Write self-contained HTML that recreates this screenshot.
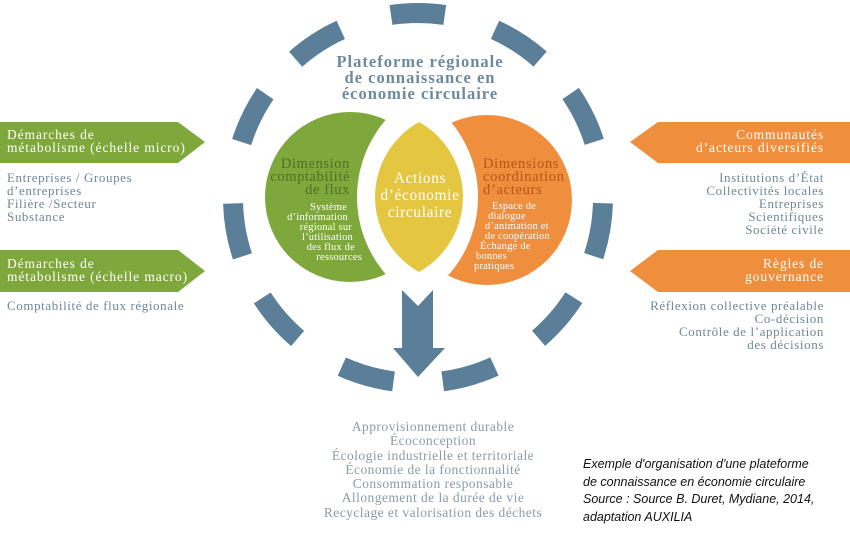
<!DOCTYPE html>
<html><head><meta charset="utf-8"><style>
html,body{margin:0;padding:0;background:#fff;width:850px;height:533px;overflow:hidden}
svg{display:block}
.s{font-family:"Liberation Serif","DejaVu Serif",serif}
</style></head><body>
<svg width="850" height="533" viewBox="0 0 850 533" xmlns="http://www.w3.org/2000/svg">
<defs>
<mask id="mo"><rect width="850" height="533" fill="#fff"/><circle cx="360" cy="197" r="118" fill="#000"/></mask>
<clipPath id="ly"><circle cx="461" cy="197" r="86"/></clipPath>
</defs>
<g fill="none" stroke="#5b7f98" stroke-width="20" stroke-dasharray="54 2000">
<circle cx="418" cy="198" r="185" transform="rotate(-98.4 418 198)"/>
<circle cx="418" cy="198" r="185" transform="rotate(-65.4 418 198)"/>
<circle cx="418" cy="198" r="185" transform="rotate(-34.4 418 198)"/>
<circle cx="418" cy="198" r="185" transform="rotate(1.6 418 198)"/>
<circle cx="418" cy="198" r="185" transform="rotate(32.6 418 198)"/>
<circle cx="418" cy="198" r="185" transform="rotate(65.6 418 198)"/>
<circle cx="418" cy="198" r="185" transform="rotate(-131.4 418 198)"/>
<circle cx="418" cy="198" r="185" transform="rotate(-162.4 418 198)"/>
<circle cx="418" cy="198" r="185" transform="rotate(161.6 418 198)"/>
<circle cx="418" cy="198" r="185" transform="rotate(130.6 418 198)"/>
<circle cx="418" cy="198" r="185" transform="rotate(97.6 418 198)"/>
</g>
<circle cx="350" cy="197" r="85" fill="#7ea83b"/>
<circle cx="475" cy="197" r="118" fill="#fff"/>
<circle cx="487" cy="200" r="85" fill="#ef8e3c" mask="url(#mo)"/>
<circle cx="377" cy="197" r="86" fill="#e4c640" clip-path="url(#ly)"/>
<polygon points="402,290 418,306 433,290 433,348 445,348 418,377 393,348 402,348" fill="#5b7f98"/>
<g class="s" font-weight="bold" font-size="16.5" letter-spacing="1" fill="#6d899b" text-anchor="middle">
<text x="420" y="67">Plateforme régionale</text>
<text x="420" y="83">de connaissance en</text>
<text x="420" y="99">économie circulaire</text>
</g>
<g class="s" font-size="14.5" letter-spacing="0.6" fill="#4f7024" text-anchor="end">
<text x="350" y="168">Dimension</text><text x="350" y="181">comptabilité</text><text x="350" y="194">de flux</text>
</g>
<g class="s" font-size="10.5" letter-spacing="0.2" fill="#fff" text-anchor="end">
<text x="347" y="210">Système</text><text x="348" y="220">d’information</text><text x="352" y="230">régional sur</text><text x="353" y="240">l’utilisation</text><text x="355" y="250">des flux de</text><text x="362" y="260">ressources</text>
</g>
<g class="s" font-size="15.5" letter-spacing="0.6" fill="#fff" text-anchor="middle">
<text x="420" y="183">Actions</text><text x="420" y="200">d’économie</text><text x="420" y="217">circulaire</text>
</g>
<g class="s" font-size="14.5" letter-spacing="0.7" fill="#b9531c">
<text x="483" y="168">Dimensions</text><text x="483" y="181">coordination</text><text x="483" y="194">d’acteurs</text>
</g>
<g class="s" font-size="10.5" letter-spacing="0.2" fill="#fff">
<text x="492" y="209">Espace de</text><text x="488" y="219">dialogue</text><text x="485" y="229">d’animation et</text><text x="485" y="239">de coopération</text><text x="480" y="249">Échange de</text><text x="476" y="259">bonnes</text><text x="474" y="269">pratiques</text>
</g>
<polygon points="0,122 178,122 205,142 178,163 0,163" fill="#7ea83b"/>
<polygon points="0,250 178,250 205,271 178,292 0,292" fill="#7ea83b"/>
<polygon points="850,122 658,122 630,142 658,163 850,163" fill="#ef8e3c"/>
<polygon points="850,250 658,250 630,271 658,292 850,292" fill="#ef8e3c"/>
<g class="s" font-size="13.5" letter-spacing="0.9" fill="#fff">
<text x="7" y="139">Démarches de</text><text x="7" y="152">métabolisme (échelle micro)</text>
<text x="7" y="268">Démarches de</text><text x="7" y="281">métabolisme (échelle macro)</text>
</g>
<g class="s" font-size="13.5" letter-spacing="0.9" fill="#fff" text-anchor="end">
<text x="824" y="139">Communautés</text><text x="824" y="152">d’acteurs diversifiés</text>
<text x="824" y="268">Règles de</text><text x="824" y="281">gouvernance</text>
</g>
<g class="s" font-size="13" letter-spacing="0.6" fill="#6f8798">
<text x="7" y="182">Entreprises / Groupes</text><text x="7" y="195">d’entreprises</text><text x="7" y="208">Filière /Secteur</text><text x="7" y="221">Substance</text>
<text x="7" y="310">Comptabilité de flux régionale</text>
</g>
<g class="s" font-size="13" letter-spacing="0.6" fill="#6f8798" text-anchor="end">
<text x="824" y="182">Institutions d’État</text><text x="824" y="195">Collectivités locales</text><text x="824" y="208">Entreprises</text><text x="824" y="221">Scientifiques</text><text x="824" y="234">Société civile</text>
<text x="824" y="310">Réflexion collective préalable</text><text x="824" y="323">Co-décision</text><text x="824" y="336">Contrôle de l’application</text><text x="824" y="349">des décisions</text>
</g>
<g class="s" font-size="13.5" letter-spacing="0.45" fill="#8a9ba7" text-anchor="middle">
<text x="433" y="431">Approvisionnement durable</text>
<text x="433" y="445">Écoconception</text>
<text x="433" y="460">Écologie industrielle et territoriale</text>
<text x="433" y="474">Économie de la fonctionnalité</text>
<text x="433" y="488">Consommation responsable</text>
<text x="433" y="502">Allongement de la durée de vie</text>
<text x="433" y="517">Recyclage et valorisation des déchets</text>
</g>
<g font-family="Liberation Sans, sans-serif" font-style="italic" font-size="12.5" fill="#111">
<text x="583" y="468">Exemple d'organisation d'une plateforme</text>
<text x="583" y="486">de connaissance en économie circulaire</text>
<text x="583" y="503">Source : Source B. Duret, Mydiane, 2014,</text>
<text x="583" y="521">adaptation AUXILIA</text>
</g>
</svg>
</body></html>
